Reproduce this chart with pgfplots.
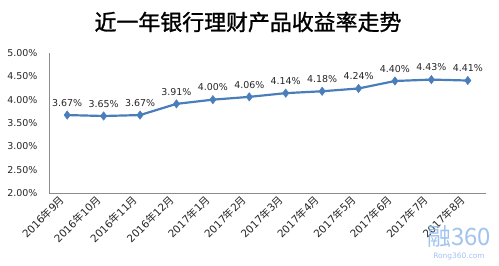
\documentclass[border=0pt]{standalone}
\usepackage{fontspec}
\usepackage{pgfplots}
\pgfplotsset{compat=1.18}
\setmainfont{DejaVu Sans}
\newfontfamily\cjk{Noto Sans CJK SC}
\newfontfamily\cjktitle[FakeBold=1.2]{Noto Sans CJK SC}
\definecolor{lineblue}{HTML}{4A7EBB}
\definecolor{axgray}{HTML}{8C8C8C}
\definecolor{logoblue}{HTML}{8FB8EC}
\newcommand{\ym}[2]{#1{\cjk 年}#2{\cjk 月}}
\begin{document}
\begin{tikzpicture}[x=1bp,y=1bp]
\begin{axis}[
  at={(0,0)}, anchor=south west,
  scale only axis, width=437bp, height=140bp,
  xmin=-0.5, xmax=11.5, ymin=2, ymax=5,
  axis x line*=bottom, axis y line*=left,
  axis line style={axgray, line width=0.8pt},
  x axis line style={-}, y axis line style={-},
  xtick={0,...,11}, ytick={2,2.5,...,5},
  major tick length=0pt,
  xticklabels={\ym{2016}{9},\ym{2016}{10},\ym{2016}{11},\ym{2016}{12},\ym{2017}{1},\ym{2017}{2},\ym{2017}{3},\ym{2017}{4},\ym{2017}{5},\ym{2017}{6},\ym{2017}{7},\ym{2017}{8}},
  xticklabel style={yshift=-4bp, xshift=-4bp, rotate=45, anchor=east, font=\fontsize{10.5}{11}\selectfont, text=black!85, inner sep=1bp},
  yticklabel={\pgfmathprintnumber[fixed,fixed zerofill,precision=2]{\tick}\%},
  yticklabel style={font=\fontsize{9.5}{10}\selectfont, text=black!85, anchor=east, xshift=-8bp},
  /pgf/number format/assume math mode=true,
  point meta=explicit symbolic,
  nodes near coords={\pgfplotspointmeta\%},
  nodes near coords style={font=\fontsize{9.5}{10}\selectfont, text=black!85, anchor=south, yshift=5bp},
  clip=false,
]
\addplot[color=lineblue, line width=2.2pt, mark=diamond*, mark size=4.2pt, mark options={fill=lineblue, draw=lineblue, line width=0.5pt}]
coordinates {(0,3.67)[3.67] (1,3.65)[3.65] (2,3.67)[3.67] (3,3.91)[3.91] (4,4.00)[4.00] (5,4.06)[4.06] (6,4.14)[4.14] (7,4.18)[4.18] (8,4.24)[4.24] (9,4.40)[4.40] (10,4.43)[4.43] (11,4.41)[4.41]};
\end{axis}
\node[font=\cjktitle\fontsize{22}{24}\selectfont] at (199bp,171bp) {近一年银行理财产品收益率走势};
\node[text=logoblue, opacity=0.85, font=\cjk\fontsize{24}{24}\selectfont] at (410bp,-43bp) {融360};
\node[text=logoblue, opacity=0.85, font=\fontsize{7.5}{8}\selectfont] at (410bp,-64bp) {Rong360.com};
\pgfresetboundingbox
\path[use as bounding box] (-49bp,-73bp) rectangle (450bp,193bp);
\end{tikzpicture}
\end{document}
